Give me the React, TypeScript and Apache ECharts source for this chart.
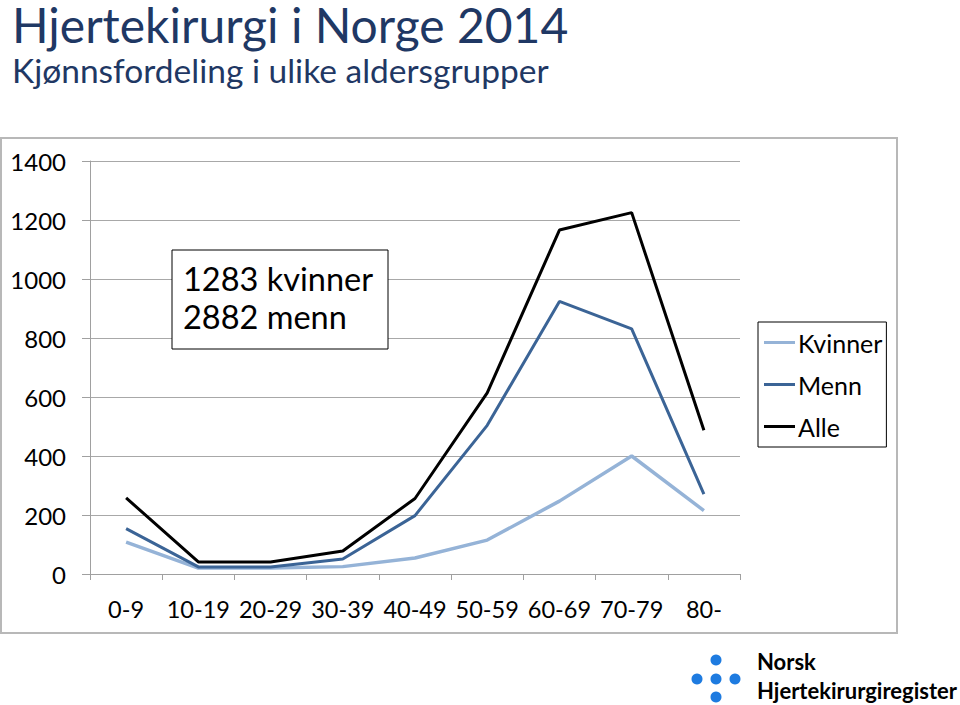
import React, { useEffect, useRef } from "react";
import * as echarts from "echarts";

const categories = ["0-9", "10-19", "20-29", "30-39", "40-49", "50-59", "60-69", "70-79", "80-"];
const kvinner = [108, 20, 20, 25, 54, 115, 247, 400, 215];
const menn = [154, 24, 24, 51, 198, 504, 924, 831, 271];
const alle = [258, 41, 41, 78, 256, 614, 1166, 1225, 487];
const yTicks = [0, 200, 400, 600, 800, 1000, 1200, 1400];

const FONT = "Lato";
const TITLE_COLOR = "#1F3864";

export default function App() {
  const ref = useRef<HTMLDivElement>(null);
  useEffect(() => {
    document.body.style.margin = "0";
    const chart = echarts.init(ref.current!, null, { renderer: "svg" });
    const dotColor = "#1E7BE0";
    chart.setOption({
      animation: false,
      backgroundColor: "#ffffff",
      textStyle: { fontFamily: FONT },
      grid: { left: 90, top: 161, width: 650, height: 413, containLabel: false },
      xAxis: {
        type: "category",
        data: categories,
        boundaryGap: true,
        axisLine: { lineStyle: { color: "#a0a0a0", width: 1 } },
        axisTick: { show: true, length: 6, lineStyle: { color: "#a0a0a0" } },
        axisLabel: { color: "#000", fontSize: 23.5, fontFamily: FONT, margin: 23, interval: 0 },
      },
      yAxis: {
        type: "value",
        min: yTicks[0],
        max: yTicks[yTicks.length - 1],
        interval: 200,
        axisLine: { show: true, lineStyle: { color: "#a0a0a0", width: 1 } },
        axisTick: { show: true, length: 8, lineStyle: { color: "#a0a0a0" } },
        axisLabel: { color: "#000", fontSize: 24, fontFamily: FONT, margin: 24, formatter: (v: number) => String(v) },
        splitLine: { show: true, lineStyle: { color: "#a8a8a8", width: 1 } },
      },
      legend: {
        orient: "vertical",
        left: 758,
        top: 322,
        padding: [8, 4, 8, 6],
        itemGap: 17,
        itemWidth: 31,
        itemHeight: 3,
        icon: "rect",
        borderColor: "#000",
        borderWidth: 1,
        textStyle: { fontSize: 25, fontFamily: FONT, color: "#000", padding: [0, 0, 0, -2] },
        data: ["Kvinner", "Menn", "Alle"],
      },
      series: [
        { name: "Kvinner", type: "line", data: kvinner, symbol: "none", lineStyle: { color: "#95B3D7", width: 3.5 }, itemStyle: { color: "#95B3D7" } },
        { name: "Menn", type: "line", data: menn, symbol: "none", lineStyle: { color: "#3B6496", width: 3 }, itemStyle: { color: "#3B6496" } },
        { name: "Alle", type: "line", data: alle, symbol: "none", lineStyle: { color: "#000000", width: 3 }, itemStyle: { color: "#000000" } },
      ],
      graphic: [
        { type: "rect", z: -1, shape: { x: 1, y: 138, width: 896, height: 495 }, style: { fill: "none", stroke: "#b8b8b8", lineWidth: 2 } },
        { type: "text", left: 12, top: 0, style: { text: "Hjertekirurgi i Norge 2014", fontSize: 48, lineHeight: 38, fontFamily: FONT, fill: TITLE_COLOR } },
        { type: "text", left: 12, top: 53, style: { text: "Kjønnsfordeling i ulike aldersgrupper", fontSize: 33.5, fontFamily: FONT, fill: TITLE_COLOR } },
        { type: "rect", z: 10, shape: { x: 172, y: 250, width: 216, height: 99 }, style: { fill: "#fff", stroke: "#000", lineWidth: 1 } },
        { type: "text", z: 11, left: 183, top: 259, style: { text: "1283 kvinner\n2882 menn", fontSize: 32.5, lineHeight: 38, fontFamily: FONT, fill: "#000" } },
        { type: "circle", shape: { cx: 716, cy: 660, r: 5.5 }, style: { fill: dotColor } },
        { type: "circle", shape: { cx: 697, cy: 679, r: 5.5 }, style: { fill: dotColor } },
        { type: "circle", shape: { cx: 716, cy: 679, r: 5.5 }, style: { fill: dotColor } },
        { type: "circle", shape: { cx: 735, cy: 679, r: 5.5 }, style: { fill: dotColor } },
        { type: "circle", shape: { cx: 716, cy: 697, r: 5.5 }, style: { fill: dotColor } },
        { type: "text", left: 757, top: 650, style: { text: "Norsk", fontSize: 22, fontWeight: "bold", fontFamily: FONT, fill: "#000" } },
        { type: "text", left: 757, top: 679, style: { text: "Hjertekirurgiregister", fontSize: 22, fontWeight: "bold", fontFamily: FONT, fill: "#000" } },
      ],
    });
    return () => chart.dispose();
  }, []);
  return <div ref={ref} style={{ width: 960, height: 705 }} />;
}
